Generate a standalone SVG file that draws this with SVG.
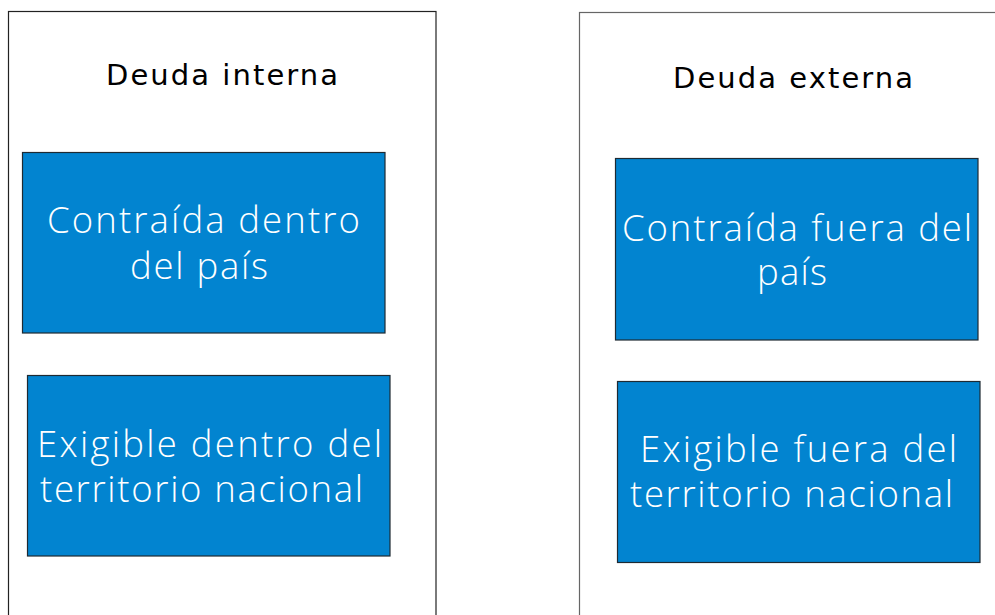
<svg xmlns="http://www.w3.org/2000/svg" width="995" height="615" viewBox="0 0 995 615">
<style>
.panel{fill:#ffffff;stroke:#222;stroke-width:1.2}
.panel2{fill:#ffffff;stroke:#666;stroke-width:1.2}
.box{fill:#0284d0;stroke:#1e2a33;stroke-width:1.2}
.title{font-family:"DejaVu Sans","Liberation Sans",sans-serif;font-size:29px;fill:#000;font-weight:400}
.lbl{font-family:"Open Sans","Liberation Sans",sans-serif;font-size:36.5px;fill:#fff;font-weight:300}
</style>
<rect width="995" height="615" fill="#fff"/>
<g id="panel-interna">
<rect class="panel" x="8.5" y="11.5" width="427.5" height="620"/>
<text class="title" x="106" y="85" textLength="232" lengthAdjust="spacing">Deuda interna</text>
</g>
<g id="panel-externa">
<rect class="panel2" x="579.5" y="12.5" width="430" height="620"/>
<text class="title" x="673" y="88" textLength="240" lengthAdjust="spacing">Deuda externa</text>
</g>
<g id="node-contraida-dentro">
<rect class="box" x="22.5" y="152.5" width="362.5" height="180.5"/>
<text class="lbl" x="47" y="233" textLength="313" lengthAdjust="spacing">Contraída dentro</text>
<text class="lbl" x="130" y="279" textLength="138" lengthAdjust="spacing">del país</text>
</g>
<g id="node-exigible-dentro">
<rect class="box" x="27.5" y="375.5" width="362.5" height="180.5"/>
<text class="lbl" x="37" y="457" textLength="345" lengthAdjust="spacing">Exigible dentro del</text>
<text class="lbl" x="40" y="502" textLength="323" lengthAdjust="spacing">territorio nacional</text>
</g>
<g id="node-contraida-fuera">
<rect class="box" x="615.5" y="158.5" width="362.5" height="181.5"/>
<text class="lbl" x="622" y="241" textLength="350" lengthAdjust="spacing">Contraída fuera del</text>
<text class="lbl" x="757" y="285" textLength="70" lengthAdjust="spacing">país</text>
</g>
<g id="node-exigible-fuera">
<rect class="box" x="617.5" y="381.5" width="362.5" height="181"/>
<text class="lbl" x="640" y="462" textLength="317" lengthAdjust="spacing">Exigible fuera del</text>
<text class="lbl" x="630" y="507" textLength="323" lengthAdjust="spacing">territorio nacional</text>
</g>
<g id="connectors"></g>
</svg>
